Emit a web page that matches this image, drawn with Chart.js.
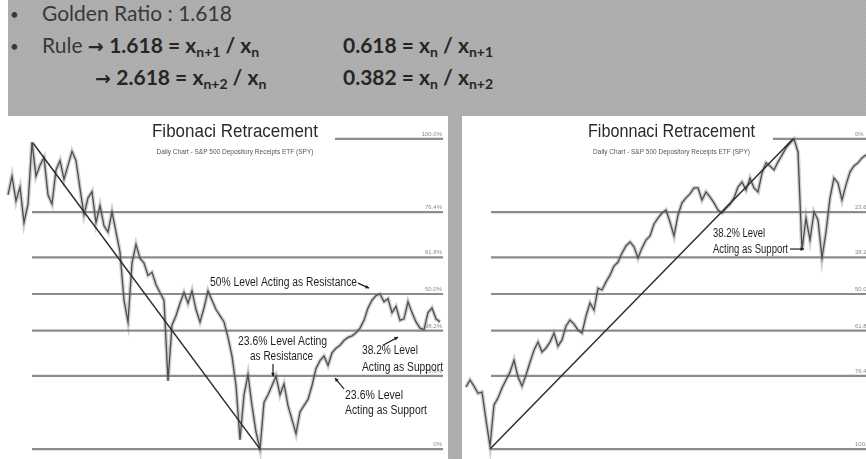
<!DOCTYPE html>
<html>
<head>
<meta charset="utf-8">
<script src="https://cdn.jsdelivr.net/npm/chart.js@4.4.1/dist/chart.umd.min.js"></script>
<style>
html, body { margin: 0; padding: 0; }
body { width: 866px; height: 459px; overflow: hidden; position: relative; background: #fff; font-family: Lato, 'Open Sans', sans-serif; }
.band { position: absolute; left: 8px; top: 0; width: 858px; height: 116px; }
.gap { position: absolute; left: 448px; top: 116px; width: 14px; height: 343px; }
.band, .gap { background: #adadad repeating-conic-gradient(#a8a8a8 0 25%, #b3b3b3 0 50%) 0 0 / 2px 2px; }
.t { position: absolute; font-size: 21px; line-height: 20px; color: #383838; white-space: nowrap; }
.t b { color: #262626; }
.pijl { font-family: 'DejaVu Sans', sans-serif; font-weight: bold; font-size: 19px; color: #262626; }
.bol { font-size: 15px; }
sub { font-size: 14px; vertical-align: -4px; line-height: 0; }
canvas { position: absolute; top: 116px; }
#links { left: 0; }
#rechts { left: 462px; }
</style>
</head>
<body>
<div class="band"></div>
<div class="gap"></div>

<div class="t bol" style="left:10px;top:4px">•</div>
<div class="t" style="left:42px;top:3px">Golden Ratio : 1.618</div>

<div class="t bol" style="left:10px;top:36px">•</div>
<div class="t" style="left:42px;top:35px">Rule <span class="pijl">→</span> <b>1.618 = x<sub>n+1</sub> / x<sub>n</sub></b></div>
<div class="t" style="left:343px;top:35px"><b>0.618 = x<sub>n</sub> / x<sub>n+1</sub></b></div>

<div class="t" style="left:95px;top:67px"><span class="pijl">→</span> <b>2.618 = x<sub>n+2</sub> / x<sub>n</sub></b></div>
<div class="t" style="left:343px;top:67px"><b>0.382 = x<sub>n</sub> / x<sub>n+2</sub></b></div>

<canvas id="links" width="448" height="343"></canvas>
<canvas id="rechts" width="420" height="343"></canvas>

<script>
// Koers als positie binnen de swing (0 = dieptepunt, 100 = top), één waarde per dag-index
const leftPrice = [
  82, 88, 80, 84.5, 73, 79, 99, 88, 91.5, 94,
  82, 79, 90, 93, 87, 91.5, 96, 93, 84, 75.5,
  81, 83, 73, 78.5, 72, 70, 76.5, 70, 63.5, 48,
  41, 60, 66, 61.5, 60, 56, 57, 53, 50.5, 48,
  22, 40, 43, 47, 50.5, 47, 51, 45, 41, 45.5,
  51, 48, 45, 43, 41, 36, 30, 20.5, 3, 17.5,
  24, 14, 5.5, 0, 15, 17.5, 20.5, 23.5, 17.5, 21,
  14, 9.5, 5, 12, 14, 16, 20.5, 26, 28.5, 30,
  27, 31, 32.5, 33.5, 35, 36, 36.5, 37.5, 39, 41.5,
  45.5, 48, 49.5, 50, 47.5, 48.5, 44, 46, 41.5, 42,
  47.5, 44, 41, 39, 38.5, 44, 45.5, 42, 41
];
const leftStartDay = 0;

const rightPrice = [
  20, 22.3, 20.3, 18, 18.4, 9.4, 1, 14.2, 16.5, 19.7,
  22.3, 24.8, 28.7, 23.2, 20.3, 23.9, 28, 31.9, 34.5, 31.3,
  32.6, 34.5, 37.4, 33.2, 35.2, 39.7, 41.6, 40.3, 38.4, 37.4,
  42.9, 47.1, 44.8, 51.9, 51.3, 53.9, 56.1, 59, 60.3, 63.2,
  65.5, 66.8, 65.2, 61.6, 64.8, 67.4, 68.7, 72.6, 74.5, 76.1,
  77.1, 73.2, 68.7, 75.5, 79.4, 81, 82.3, 84.2, 84.2, 80.3,
  82.9, 81.3, 79.4, 77.1, 76.1, 77.7, 79, 81, 84.5, 86.1,
  83.5, 87.4, 84.2, 82.9, 89, 92.3, 91.3, 90, 92.6, 94.8,
  97.1, 98.7, 100, 95.8, 64.2, 74.5, 67.4, 76.5, 73.9, 61.6,
  70, 81, 87.4, 85.8, 80.3, 85.2, 89.4, 91.3, 92.3, 93.9,
  94.8, 95.8
];
const rightStartDay = 1;

// Fibonacci niveaus (positie in de swing) en hun labels
const levelRatios = [0, 23.6, 38.2, 50, 61.8, 76.4, 100];
const leftLevelLabels = ['0%', '23.6%', '38.2%', '50.0%', '61.8%', '76.4%', '100.0%'];
const rightLevelLabels = ['100.0%', '76.4%', '61.8%', '50.0%', '38.2%', '23.6%', '0%'];
const leftLevelFrom = [6, 6, 6, 6, 6, 6, 81.75];
const rightLevelFrom = [7.25, 7.25, 7.25, 7.25, 7.25, 7.25, 77.75];

// Trendlijn van top naar bodem (links) en bodem naar top (rechts)
const leftTrendDays = [6.25, 63];
const leftTrendValues = [98.7, 0];
const rightTrendDays = [7, 82.75];
const rightTrendValues = [0, 100];

// Teksten in de grafiek (dag, niveau, max breedte)
const leftNotes = [
  { text: '50% Level Acting as Resistance', day: 50.5, value: 52.6, width: 147 },
  { text: '23.6% Level Acting', day: 57.5, value: 33.5, width: 89 },
  { text: 'as Resistance', day: 60.5, value: 28.7, width: 63 },
  { text: '38.2% Level', day: 88.5, value: 30.6, width: 56 },
  { text: 'Acting as Support', day: 88.5, value: 25.2, width: 81 },
  { text: '23.6% Level', day: 84.25, value: 16.1, width: 58 },
  { text: 'Acting as Support', day: 84.25, value: 11.3, width: 82 }
];
const leftArrows = [[87.5, 53.5, 90.25, 51.9], [66.25, 27.4, 66.25, 23.5], [93.75, 33.5, 97.5, 36.1], [84, 19.4, 81.75, 22.9]];
const rightNotes = [
  { text: '38.2% Level', day: 62.75, value: 68.4, width: 52 },
  { text: 'Acting as Support', day: 62.75, value: 63.2, width: 75 }
];
const rightArrows = [[82, 64.5, 85.5, 64.5]];

const SUBTITLE = 'Daily Chart - S&P 500 Depository Receipts ETF (SPY)';

function tekstPlugin(cfg) {
  return {
    id: 'tekst',
    afterDatasetsDraw(chart) {
      const ctx = chart.ctx, xs = chart.scales.x, ys = chart.scales.y;
      ctx.save();
      ctx.textBaseline = 'alphabetic';

      // titel + ondertitel
      ctx.fillStyle = '#2b2b2b';
      ctx.textAlign = 'center';
      ctx.font = '19px "Liberation Sans", Arial, sans-serif';
      ctx.fillText(cfg.title, cfg.titleX, 21, cfg.titleWidth);
      ctx.fillStyle = '#555';
      ctx.font = '6.5px "Liberation Sans", Arial, sans-serif';
      ctx.fillText(SUBTITLE, cfg.titleX, 38, 160);

      // labels van de niveaus
      ctx.fillStyle = '#8a8a8a';
      ctx.font = '6px "Liberation Sans", Arial, sans-serif';
      ctx.textAlign = cfg.labelAlign;
      levelRatios.forEach((r, i) => {
        ctx.fillText(cfg.labels[i], xs.getPixelForValue(cfg.labelDay), ys.getPixelForValue(r) - 3);
      });

      // uitleg-teksten
      ctx.fillStyle = '#1e1e1e';
      ctx.font = '12px "Liberation Sans", Arial, sans-serif';
      ctx.textAlign = 'left';
      cfg.notes.forEach(n => {
        ctx.fillText(n.text, xs.getPixelForValue(n.day), ys.getPixelForValue(n.value), n.width);
      });

      // pijltjes
      ctx.strokeStyle = '#1e1e1e';
      ctx.lineWidth = 1.2;
      cfg.arrows.forEach(a => {
        const x0 = xs.getPixelForValue(a[0]), y0 = ys.getPixelForValue(a[1]);
        const x1 = xs.getPixelForValue(a[2]), y1 = ys.getPixelForValue(a[3]);
        const hoek = Math.atan2(y1 - y0, x1 - x0);
        ctx.beginPath();
        ctx.moveTo(x0, y0);
        ctx.lineTo(x1, y1);
        ctx.stroke();
        ctx.beginPath();
        ctx.moveTo(x1, y1);
        ctx.lineTo(x1 - 4 * Math.cos(hoek - 0.5), y1 - 4 * Math.sin(hoek - 0.5));
        ctx.lineTo(x1 - 4 * Math.cos(hoek + 0.5), y1 - 4 * Math.sin(hoek + 0.5));
        ctx.closePath();
        ctx.fill();
      });
      ctx.restore();
    }
  };
}

function tekenFibChart(canvasId, cfg) {
  const ctx = document.getElementById(canvasId).getContext('2d');
  const koers = cfg.price.map((v, i) => ({ x: cfg.startDay + i, y: v }));
  const datasets = [];

  // trendlijn bovenop
  datasets.push({
    data: cfg.trendDays.map((d, i) => ({ x: d, y: cfg.trendValues[i] })),
    borderColor: '#2e2e2e', borderWidth: 1.5, pointRadius: 0
  });
  // koers: scherpe lijn met een zachte rand (zoals de dagstaafjes)
  datasets.push({ data: koers, borderColor: '#4d4d4d', borderWidth: 1.3, pointRadius: 0, tension: 0 });
  datasets.push({ data: koers, borderColor: 'rgba(120,120,120,0.35)', borderWidth: 4, pointRadius: 0, tension: 0 });
  // fibonacci lijnen
  levelRatios.forEach((r, i) => {
    datasets.push({
      data: [{ x: cfg.levelFrom[i], y: r }, { x: cfg.levelTo, y: r }],
      borderColor: '#8c8c8c', borderWidth: 2.2, pointRadius: 0
    });
  });

  new Chart(ctx, {
    type: 'line',
    data: { datasets: datasets },
    options: {
      responsive: false,
      animation: false,
      layout: { padding: 0 },
      scales: {
        x: { type: 'linear', display: false, min: cfg.xMin, max: cfg.xMax },
        y: { type: 'linear', display: false, min: -3.2, max: 107.4 }
      },
      plugins: { legend: { display: false }, tooltip: { enabled: false } }
    },
    plugins: [tekstPlugin(cfg)]
  });
}

tekenFibChart('links', {
  price: leftPrice, startDay: leftStartDay,
  trendDays: leftTrendDays, trendValues: leftTrendValues,
  levelFrom: leftLevelFrom, levelTo: 108.75,
  xMin: -2, xMax: 110,
  title: 'Fibonaci Retracement', titleX: 235, titleWidth: 166,
  labels: leftLevelLabels, labelDay: 108.5, labelAlign: 'right',
  notes: leftNotes, arrows: leftArrows
});

tekenFibChart('rechts', {
  price: rightPrice, startDay: rightStartDay,
  trendDays: rightTrendDays, trendValues: rightTrendValues,
  levelFrom: rightLevelFrom, levelTo: 105,
  xMin: 0, xMax: 105,
  title: 'Fibonnaci Retracement', titleX: 209.5, titleWidth: 167,
  labels: rightLevelLabels, labelDay: 98.25, labelAlign: 'left',
  notes: rightNotes, arrows: rightArrows
});
</script>
</body>
</html>
